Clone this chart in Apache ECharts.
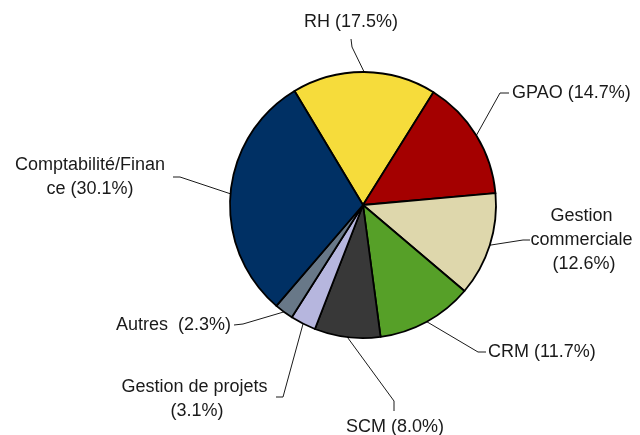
<!DOCTYPE html>
<html>
<head>
<meta charset="utf-8">
<script src="https://cdn.jsdelivr.net/npm/echarts@6/dist/echarts.min.js"></script>
<style>html,body{margin:0;padding:0;background:#fff}#chart{width:640px;height:435px}</style>
</head>
<body>
<div id="chart"></div>
<script>
// Data
var categories = ['RH', 'GPAO', 'Gestion commerciale', 'CRM', 'SCM', 'Gestion de projets', 'Autres', 'Comptabilité/Finance'];
var shares = [17.5, 14.7, 12.6, 11.7, 8.0, 3.1, 2.3, 30.1];

// Styles / layout (not data)
var colors = ['#F6DC3B', '#A40000', '#DED7AC', '#56A028', '#383838', '#B6B6DE', '#687888', '#003064'];
var labelSep = [' (', ' (', ' (', ' (', ' (', ' (', '  (', ' ('];
var labelWidth = [null, null, 110, null, null, 152, null, 161];
var labelOverflow = [null, null, 'break', null, null, 'break', null, 'breakAll'];
// [x, y, align] for each label, then leader elbow and end points
var labelPlace = [
  [351, 22, 'center'], [512, 93, 'left'], [584, 240, 'center'], [488, 352, 'left'],
  [395, 427, 'center'], [197, 399, 'center'], [231, 325, 'right'], [90, 177, 'center']
];
var lineElbow = [[352, 47], [500, 93], [523, 240], [478, 352], [394, 401], [283, 397], [243, 324], [180, 177]];
var lineEnd = [[351, 39], [509, 93], [530, 240], [486, 352], [394, 411], [276, 397], [234, 325], [173, 177]];

var chart = echarts.init(document.getElementById('chart'), null, {renderer: 'canvas'});
var data = categories.map(function (name, i) {
  var item = {
    name: name,
    value: shares[i],
    itemStyle: {color: colors[i]},
    label: {}
  };
  if (labelWidth[i]) {
    item.label.width = labelWidth[i];
    item.label.overflow = labelOverflow[i];
  }
  return item;
});

chart.setOption({
  animation: false,
  series: [{
    type: 'pie',
    center: [363, 205],
    radius: 133,
    startAngle: 121,
    clockwise: true,
    avoidLabelOverlap: false,
    data: data,
    itemStyle: {borderColor: '#000', borderWidth: 1.8},
    emphasis: {disabled: true},
    label: {
      show: true,
      position: 'outside',
      fontFamily: 'Liberation Sans, Arial, sans-serif',
      fontSize: 18,
      color: '#1a1a1a',
      lineHeight: 24,
      align: 'center',
      formatter: function (p) {
        return p.name + labelSep[p.dataIndex] + p.value.toFixed(1) + '%)';
      }
    },
    labelLine: {
      show: true,
      length: 10,
      length2: 10,
      lineStyle: {color: '#1a1a1a', width: 1}
    },
    labelLayout: function (params) {
      var i = params.dataIndex;
      var pl = labelPlace[i];
      var pts = params.labelLinePoints;
      var anchor = pts ? pts[0] : lineElbow[i];
      return {
        x: pl[0],
        y: pl[1],
        align: pl[2],
        verticalAlign: 'middle',
        labelLinePoints: [anchor, lineElbow[i], lineEnd[i]]
      };
    }
  }]
});
</script>
</body>
</html>
